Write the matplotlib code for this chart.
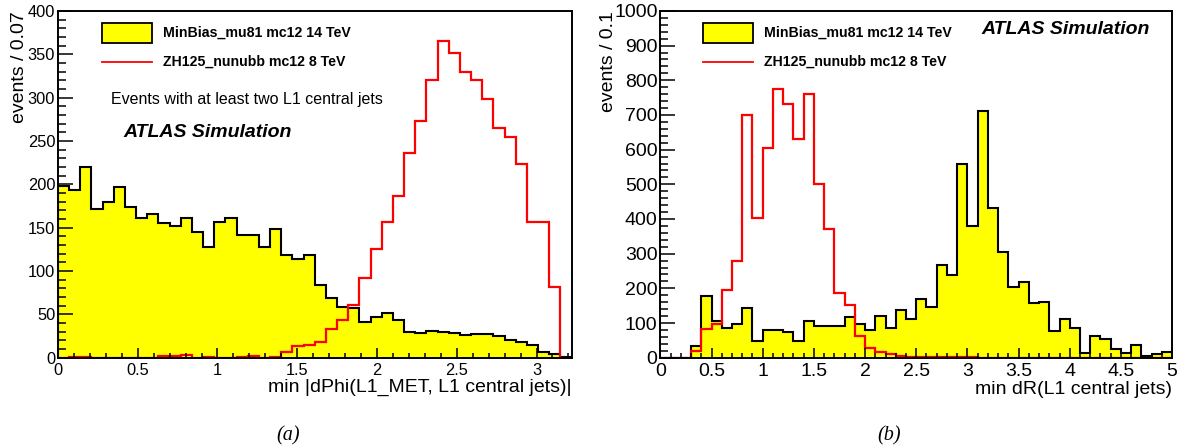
import matplotlib
matplotlib.use("Agg")
import numpy as np
import matplotlib.pyplot as plt
from matplotlib.ticker import MultipleLocator, FuncFormatter

plt.rcParams['font.family'] = ['Liberation Sans', 'DejaVu Sans']

# (a) min |dPhi(L1_MET, L1 central jets)|, 46 bins of 0.07
dphi_edges = np.linspace(0, 3.22, 47)
dphi_minbias = [198, 194, 220, 172, 180, 197, 174, 161, 166, 155, 152, 161, 145, 128, 156, 161,
                141, 141, 128, 148, 118, 114, 118, 84, 69, 59, 57, 41, 47, 51, 44, 30,
                28, 31, 30, 28, 26, 27, 27, 25, 20, 18, 15, 7, 4, 1]
dphi_zh = [0, 1, 1, 0, 0, 0, 0, 0, 0, 2, 2, 3, 0, 1, 0, 0,
           1, 2, 0, 1, 6, 13, 15, 18, 33, 44, 61, 92, 125, 157, 187, 236,
           273, 320, 365, 352, 329, 320, 298, 265, 254, 224, 157, 156, 81, 0]

# (b) min dR(L1 central jets), 50 bins of 0.1
dr_edges = np.linspace(0, 5, 51)
dr_minbias = [0, 0, 0, 35, 179, 106, 85, 96, 142, 48, 80, 80, 75, 48, 106, 92,
              90, 92, 118, 98, 80, 120, 86, 137, 113, 169, 147, 267, 238, 558, 379, 711,
              431, 306, 203, 219, 157, 160, 78, 111, 85, 14, 62, 53, 24, 14, 38, 6,
              12, 17]
dr_zh = [0, 0, 0, 20, 83, 97, 195, 279, 700, 402, 604, 775, 733, 630, 759, 500,
         371, 186, 152, 63, 27, 17, 12, 6, 3, 1, 1, 1, 1, 1, 1, 0,
         0, 0, 0, 0, 0, 0, 0, 0, 0, 0, 0, 0, 0, 0, 0, 0,
         0, 0]

fig = plt.figure(figsize=(11.83, 4.48), dpi=100)
ax1 = fig.add_axes([0.049, 0.2016, 0.4342, 0.774])
ax2 = fig.add_axes([0.5582, 0.2016, 0.4326, 0.774])

fmt = FuncFormatter(lambda v, p: '%g' % v)


def draw_panel(ax, edges, bg, sig, xmax, ymax, ymajor, yminor, ylabel, xlabel, tsize):
    ax.stairs(bg, edges, fill=True, color='#ffff00', baseline=0)
    ax.stairs(bg, edges, color='black', lw=1.5, baseline=0)
    ax.stairs(sig, edges, color='#ff0000', lw=1.6, baseline=0)
    ax.set_xlim(0, xmax)
    ax.set_ylim(0, ymax)
    ax.xaxis.set_major_locator(MultipleLocator(0.5))
    ax.xaxis.set_minor_locator(MultipleLocator(0.1))
    ax.yaxis.set_major_locator(MultipleLocator(ymajor))
    ax.yaxis.set_minor_locator(MultipleLocator(yminor))
    ax.xaxis.set_major_formatter(fmt)
    ax.yaxis.set_major_formatter(fmt)
    ax.tick_params(axis='both', which='both', direction='in', top=False, right=False, width=1.1)
    ax.tick_params(axis='x', which='major', length=7.2, pad=3.5, labelsize=tsize)
    ax.tick_params(axis='x', which='minor', length=3.6)
    ax.tick_params(axis='y', which='major', length=10.8, pad=2, labelsize=tsize)
    ax.tick_params(axis='y', which='minor', length=5.4)
    for s in ax.spines.values():
        s.set_linewidth(1.4)
    ax.set_ylabel(ylabel, loc='top', fontsize=14)
    ax.set_xlabel(xlabel, loc='right', fontsize=14)


draw_panel(ax1, dphi_edges, dphi_minbias, dphi_zh, 3.22, 400, 50, 10,
           'events / 0.07', 'min |dPhi(L1_MET, L1 central jets)|', 11.8)
ax1.yaxis.set_label_coords(-0.058, 1.0)
ax1.xaxis.set_label_coords(1.0, -0.062)
draw_panel(ax2, dr_edges, dr_minbias, dr_zh, 5, 1000, 100, 20,
           'events / 0.1', 'min dR(L1 central jets)', 14)
ax2.yaxis.set_label_coords(-0.085, 1.0)
ax2.xaxis.set_label_coords(1.0, -0.068)

# legend drawn like the ROOT TLegend
for ax, xb in ((ax1, 0.085), (ax2, 0.083)):
    ax.add_patch(plt.Rectangle((xb, 0.907), 0.099, 0.0575, transform=ax.transAxes,
                               facecolor='#ffff00', edgecolor='black', lw=1.3))
    ax.plot([xb, xb + 0.099], [0.854, 0.854], transform=ax.transAxes, color='#ff0000', lw=1.3)
    ax.text(xb + 0.119, 0.937, 'MinBias_mu81 mc12 14 TeV', transform=ax.transAxes,
            fontsize=10.2, fontweight='bold', va='center')
    ax.text(xb + 0.119, 0.854, 'ZH125_nunubb mc12 8 TeV', transform=ax.transAxes,
            fontsize=10.2, fontweight='bold', va='center')

ax1.text(0.103, 0.746, 'Events with at least two L1 central jets', transform=ax1.transAxes,
         fontsize=11.5, va='center')
ax1.text(0.128, 0.649, 'ATLAS Simulation', transform=ax1.transAxes,
         fontsize=14, fontweight='bold', fontstyle='italic', va='center')
ax2.text(0.628, 0.947, 'ATLAS Simulation', transform=ax2.transAxes,
         fontsize=14, fontweight='bold', fontstyle='italic', va='center')

fig.text(288 / 1183, 1 - 436 / 448, '(a)', fontsize=14.5, fontstyle='italic',
         family='Liberation Serif', ha='center', va='center')
fig.text(889 / 1183, 1 - 436 / 448, '(b)', fontsize=14.5, fontstyle='italic',
         family='Liberation Serif', ha='center', va='center')

fig.savefig('out.png', dpi=100)
